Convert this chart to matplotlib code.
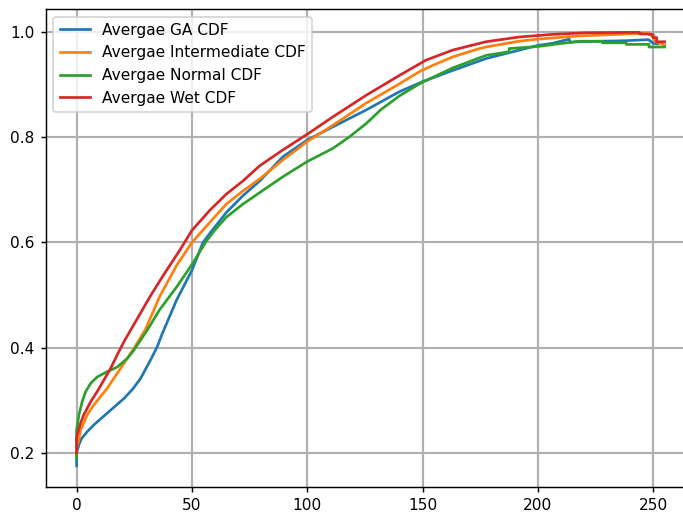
import matplotlib
matplotlib.use("Agg")
import matplotlib.pyplot as plt

# Values
ga_x = [0, 0, 1, 2, 4.6, 7.5, 13.2, 20.5, 24.5, 27.7, 32, 34.9, 37.1, 43.3, 50, 54.8, 57.7, 64.9,
        72.1, 79.4, 89.4, 100, 111.1, 125.5, 140, 150, 161.6, 177.5, 191.9, 200, 206.3,
        213.6, 214, 217.9, 238, 248, 250, 252]
ga_y = [0.175, 0.20, 0.215, 0.226, 0.240, 0.253, 0.275, 0.303, 0.322, 0.341, 0.376, 0.401, 0.426,
        0.49, 0.547, 0.60, 0.617, 0.657, 0.689, 0.717, 0.763, 0.795, 0.820, 0.852, 0.887,
        0.906, 0.925, 0.950, 0.966, 0.975, 0.979, 0.987, 0.981, 0.982, 0.984, 0.986, 0.979, 0.978]

inter_x = [0, 0, 1, 1.7, 4.6, 7.5, 10.4, 13.2, 17.6, 21.9, 24.8, 29.9, 36, 43.3, 50, 57.7,
           64.9, 72.1, 79.4, 89.4, 100, 111.1, 125.5, 140, 148.6, 154.4, 163, 174.6, 177.5,
           191.9, 200, 217.9, 239.7, 248, 250, 251, 255]
inter_y = [0.195, 0.21, 0.225, 0.243, 0.272, 0.291, 0.307, 0.322, 0.351, 0.379, 0.398, 0.435,
           0.497, 0.556, 0.60, 0.638, 0.673, 0.698, 0.721, 0.757, 0.792, 0.823, 0.865, 0.902,
           0.925, 0.937, 0.953, 0.969, 0.972, 0.983, 0.987, 0.993, 0.997, 0.998, 0.990, 0.982,
           0.976]

normal_x = [0, 0, 1, 2.4, 3.9, 6.1, 8.9, 13.2, 17.6, 21.9, 24.8, 30.6, 36, 43.3, 50, 56.3,
            60, 64.9, 72.1, 79.4, 89.4, 100, 111.1, 118.3, 125.5, 132, 140, 147.2, 150, 163,
            177.5, 187.6, 187.6, 200, 217.9, 228, 228, 238.3, 238.3, 248.2, 248.2, 255]
normal_y = [0.19, 0.243, 0.272, 0.297, 0.316, 0.332, 0.344, 0.354, 0.363, 0.379, 0.395, 0.433,
            0.472, 0.515, 0.558, 0.603, 0.624, 0.648, 0.673, 0.695, 0.725, 0.754, 0.779, 0.801,
            0.826, 0.853, 0.879, 0.898, 0.905, 0.932, 0.956, 0.963, 0.969, 0.973, 0.983, 0.983,
            0.980, 0.980, 0.977, 0.977, 0.972, 0.972]

wet_x = [0, 0, 1.7, 3.1, 6.1, 8.9, 11.8, 14.7, 17.6, 20.5, 23.4, 31.7, 37.5, 44.7, 50, 57.7,
         64.9, 72.1, 79.4, 89.4, 100, 111.1, 125.5, 140, 151.5, 163, 177.5, 191.9, 206.3,
         220.8, 244, 244, 250, 250, 251.5, 251.5, 255]
wet_y = [0.20, 0.23, 0.256, 0.272, 0.297, 0.316, 0.338, 0.36, 0.386, 0.411, 0.433, 0.496,
         0.537, 0.585, 0.623, 0.661, 0.692, 0.717, 0.746, 0.776, 0.806, 0.839, 0.880, 0.918,
         0.947, 0.966, 0.982, 0.991, 0.996, 0.999, 1.0, 0.997, 0.996, 0.990, 0.990, 0.982,
         0.982]

labels = ["Avergae GA CDF", "Avergae Intermediate CDF", "Avergae Normal CDF", "Avergae Wet CDF"]
colors = ["#1f77b4", "#ff7f0e", "#2ca02c", "#d62728"]

plt.rcParams["font.size"] = 8.5
plt.rcParams["xtick.major.size"] = 2.8
plt.rcParams["ytick.major.size"] = 2.8

dpi = 130
fig = plt.figure(figsize=(683 / dpi, 512 / dpi), dpi=dpi)
ax = fig.add_axes([45.7 / 683, (512 - 486.7) / 512, 665.1 / 683, 477.7 / 512])

for xs, ys, lab, c in zip([ga_x, inter_x, normal_x, wet_x],
                          [ga_y, inter_y, normal_y, wet_y], labels, colors):
    ax.plot(xs, ys, color=c, label=lab, linewidth=1.5)

ax.set_xlim(-13.4, 275)
ax.set_ylim(0.1353, 1.0443)
ax.set_xticks([0, 50, 100, 150, 200, 250])
ax.set_yticks([0.2, 0.4, 0.6, 0.8, 1.0])
ax.grid(True, linewidth=1.2, color="#b0b0b0")
ax.legend(loc="upper left")

fig.savefig("out.png", dpi=dpi)
